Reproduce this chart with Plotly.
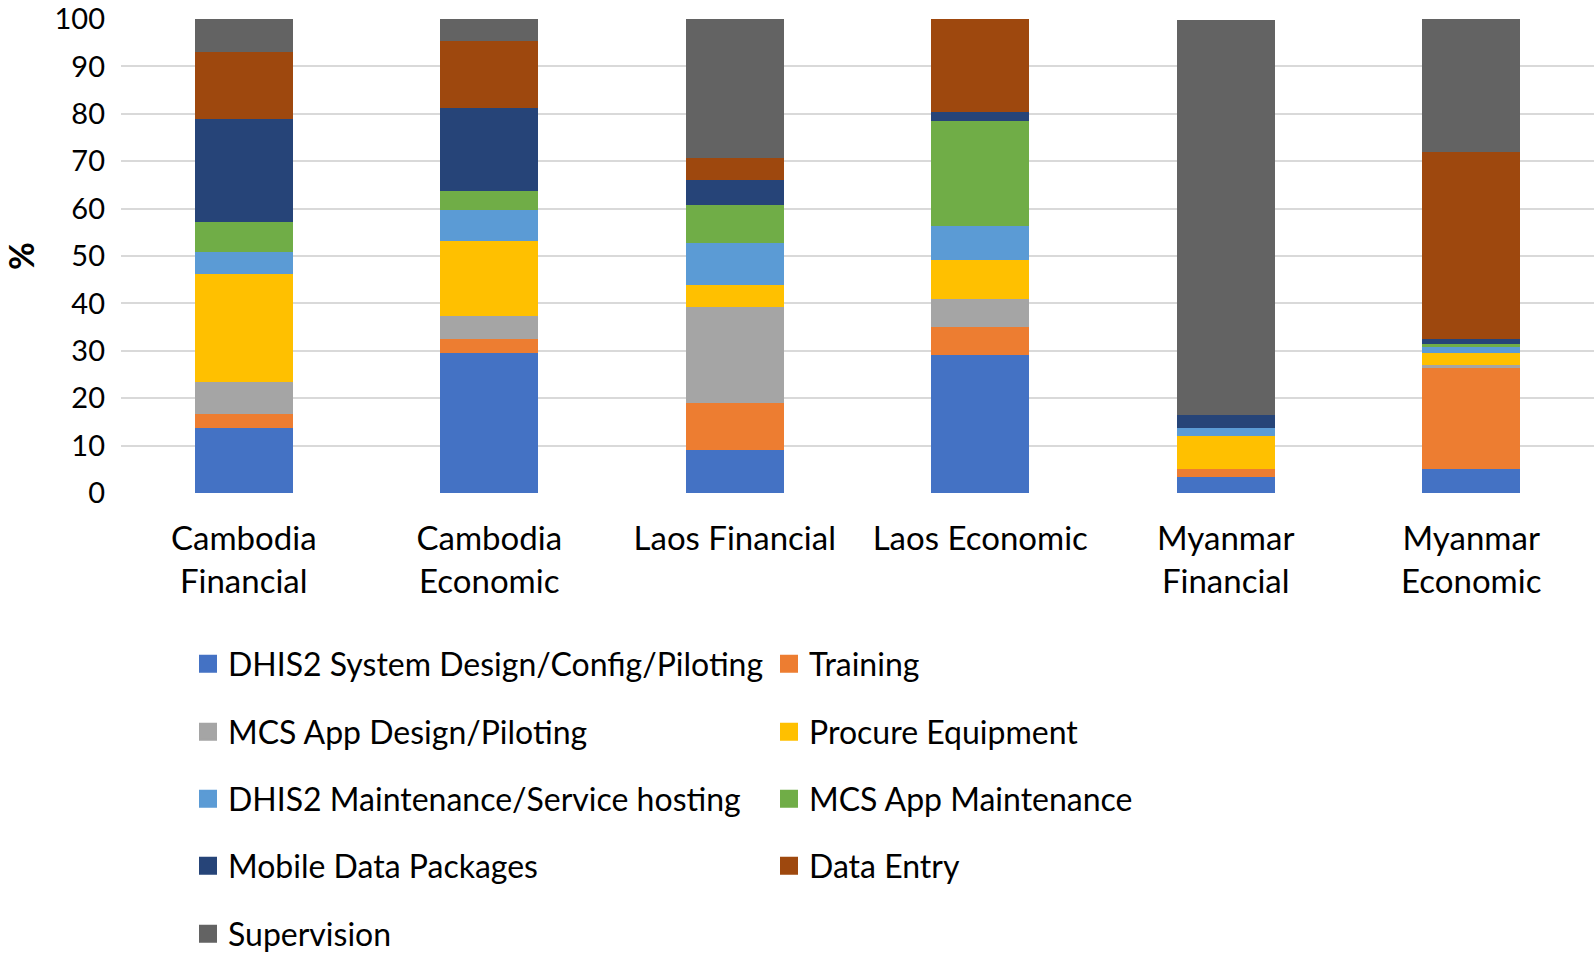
import plotly.graph_objects as go

categories = ["Cambodia<br>Financial", "Cambodia<br>Economic", "Laos Financial",
              "Laos Economic", "Myanmar<br>Financial", "Myanmar<br>Economic"]

series_names = ["DHIS2 System Design/Config/Piloting", "Training", "MCS App Design/Piloting",
                "Procure Equipment", "DHIS2 Maintenance/Service hosting", "MCS App Maintenance",
                "Mobile Data Packages", "Data Entry", "Supervision"]

dhis2_design = [13.7, 29.6, 9.0, 29.1, 3.4, 5.0]
training = [3.0, 2.9, 9.9, 6.0, 1.7, 21.4]
mcs_design = [6.8, 4.8, 20.4, 5.9, 0.0, 0.6]
procure = [22.8, 15.8, 4.6, 8.1, 6.9, 2.5]
dhis2_maint = [4.5, 6.6, 8.8, 7.3, 1.8, 1.3]
mcs_maint = [6.3, 4.0, 8.0, 22.1, 0.0, 0.7]
mobile_data = [21.9, 17.5, 5.4, 1.9, 2.6, 0.9]
data_entry = [14.0, 14.2, 4.6, 19.6, 0.0, 39.6]
supervision = [7.0, 4.6, 29.3, 0.0, 83.3, 28.0]

y_ticks = [0, 10, 20, 30, 40, 50, 60, 70, 80, 90, 100]

series_values = [dhis2_design, training, mcs_design, procure, dhis2_maint,
                 mcs_maint, mobile_data, data_entry, supervision]
colors = ["#4472C4", "#ED7D31", "#A5A5A5", "#FFC000", "#5B9BD5",
          "#70AD47", "#264478", "#9E480E", "#636363"]

FONT = "Lato"
W, H = 1594, 957

fig = go.Figure()
for i, (name, vals, col) in enumerate(zip(series_names, series_values, colors)):
    row = i // 2
    lg = "legend" if row == 0 else f"legend{row + 1}"
    fig.add_trace(go.Bar(name=name, x=categories, y=vals, marker=dict(color=col, line=dict(width=0)),
                         showlegend=False, legendgroup=name))
    # legend entry (square swatch) for this series
    fig.add_trace(go.Scatter(name=name, x=[None], y=[None], mode="markers",
                             marker=dict(symbol="square", color=col, size=16,
                                         line=dict(width=2, color=col)),
                             legend=lg, legendgroup=name, hoverinfo="skip"))

layout = dict(
    width=W, height=H,
    barmode="stack", bargap=0.6,
    plot_bgcolor="white", paper_bgcolor="white",
    font=dict(family=FONT, size=32, color="black"),
    margin=dict(l=121, r=0, t=19, b=464, autoexpand=False),
    xaxis=dict(showgrid=False, showline=False, ticks="", tickfont=dict(size=33, color="black"),
               ticklabelstandoff=23),
    yaxis=dict(range=[0, 100], tickvals=y_ticks, showgrid=True, gridcolor="#d9d9d9", gridwidth=2,
               zeroline=False, showline=False, ticks="", tickfont=dict(size=29, color="black"),
               ticklabelstandoff=15, ticklabeloverflow="allow",
               title=dict(text="<b>%</b>", font=dict(size=34, color="black"), standoff=30)),
)

row_y = [664, 732, 799, 866, 934]
for r, py in enumerate(row_y):
    key = "legend" if r == 0 else f"legend{r + 1}"
    layout[key] = dict(orientation="h", xref="container", yref="container",
                       x=188 / W, xanchor="left", y=1 - py / H, yanchor="middle",
                       entrywidth=536, traceorder="normal", bgcolor="rgba(0,0,0,0)",
                       itemsizing="trace",
                       font=dict(family=FONT, size=32, color="black"))

fig.update_layout(**layout)
fig.write_html("out.html", config={"displayModeBar": False},
               post_script="document.body.style.margin='0px';")
